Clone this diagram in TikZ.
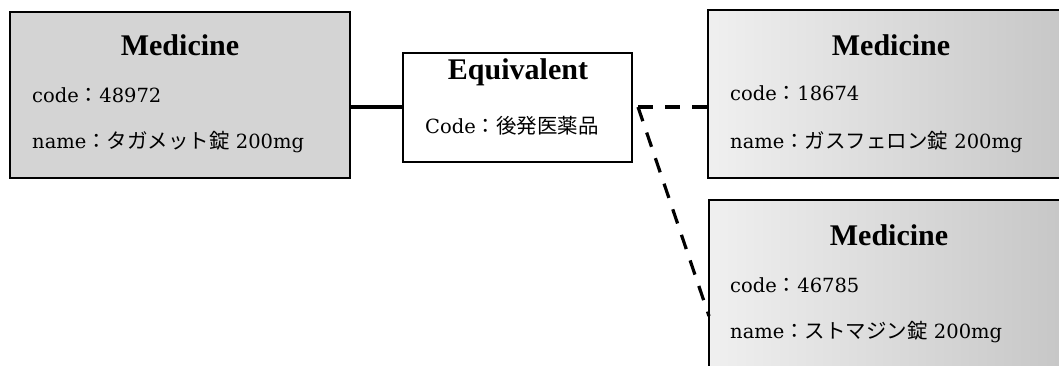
\documentclass[tikz,border=0pt]{standalone}
\usepackage{fontspec}
\setmainfont{DejaVu Serif}
\newfontfamily\headfont{Liberation Serif}
\newfontfamily\jp[Scale=1.05]{Noto Sans CJK JP}
\begin{document}
\begin{tikzpicture}[x=1pt,y=-1pt,
  box/.style={draw=black, line width=2.6pt, inner sep=0pt},
  medbox/.style={box, fill=gray!34},
  medboxshade/.style={box, left color=gray!12, right color=gray!45},
  eqbox/.style={box, fill=white},
  title/.style={inner sep=0pt, anchor=base, font=\headfont\bfseries\fontsize{30}{33}\selectfont},
  attr/.style={inner sep=0pt, anchor=base west, font=\fontsize{19.5}{22}\selectfont},
  link/.style={line width=3.2pt},
  dlink/.style={line width=3.2pt, dash pattern=on 15pt off 12pt}]
\clip (0,0) rectangle (1059,365);
\fill[white] (0,0) rectangle (1059,365);
% boxes
\node[medbox, minimum width=340pt, minimum height=166pt] (m1) at (180,95) {};
\node[eqbox, minimum width=229pt, minimum height=109pt] (eq) at (517.5,107.5) {};
\node[medboxshade, minimum width=366pt, minimum height=168pt] (m3) at (891,94) {};
\node[medboxshade, minimum width=362pt, minimum height=170pt] (m4) at (890,285) {};
% texts
\node[title] (t1) at (180,55) {Medicine};
\node[attr] (c1) at (32,102) {code{\jp ：}48972};
\node[attr] (n1) at (32,148) {name{\jp ：タガメット錠} 200mg};
\node[title] (te) at (518,79) {Equivalent};
\node[attr] (ce) at (425,133) {Code{\jp ：後発医薬品}};
\node[title] (t3) at (891,55) {Medicine};
\node[attr] (c3) at (730,100) {code{\jp ：}18674};
\node[attr] (n3) at (730,148) {name{\jp ：ガスフェロン錠} 200mg};
\node[title] (t4) at (889,245) {Medicine};
\node[attr] (c4) at (730,292) {code{\jp ：}46785};
\node[attr] (n4) at (730,338) {name{\jp ：ストマジン錠} 200mg};
% connectors
\coordinate (j) at (638,107);
\coordinate (k) at (709,316);
\draw[link] (m1.east |- j) -- (eq.west |- j);
\draw[dlink] (j) -- (m3.west |- j);
\draw[dlink] (j) -- (k);
\end{tikzpicture}
\end{document}
